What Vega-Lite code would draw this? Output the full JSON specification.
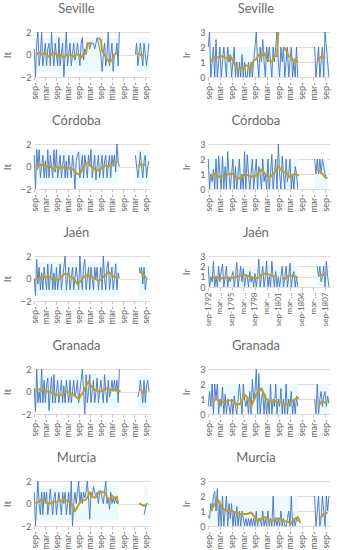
{
"$schema":"https://vega.github.io/schema/vega-lite/v6.json",
"padding":{"top":3,"left":2,"right":4,"bottom":0},
"columns":2,
"align":"each",
"spacing":{"row":14,"column":30},
"config":{
 "view":{"stroke":null},
 "font":"Lato",
 "title":{"fontSize":13,"fontWeight":"normal","color":"#6a6a6a","font":"Lato","offset":12,"frame":"bounds","anchor":"middle"},
 "axis":{"labelFont":"Lato","labelFontSize":9,"labelColor":"#666666","titleFont":"Lato","titleFontSize":10,"titleFontWeight":"normal","titleColor":"#666666","domain":false,"ticks":false,"gridColor":"#dcdcdc"},
 "axisX":{"grid":false,"ticks":true,"tickColor":"#c8c8c8","tickSize":3,"labelAngle":-90,"labelPadding":2,"labelAlign":"right","labelBaseline":"middle"},
 "axisY":{"grid":true,"labelPadding":3,"titlePadding":8}
},
"datasets":{
"bands":[
{"c":"Seville","i":"It","t":"1792-09","t2":"1804-03","v":-1.5,"v2":1.5},
{"c":"Seville","i":"It","t":"1806-05","t2":"1808-03","v":-1.5,"v2":1.5},
{"c":"Seville","i":"Ir","t":"1792-09","t2":"1804-03","v":0,"v2":2},
{"c":"Seville","i":"Ir","t":"1806-05","t2":"1808-03","v":0,"v2":2},
{"c":"Cordoba","i":"It","t":"1792-09","t2":"1804-03","v":-1.5,"v2":1.5},
{"c":"Cordoba","i":"It","t":"1806-05","t2":"1808-03","v":-1.5,"v2":1.5},
{"c":"Cordoba","i":"Ir","t":"1792-09","t2":"1804-03","v":0,"v2":2},
{"c":"Cordoba","i":"Ir","t":"1806-05","t2":"1808-01","v":0,"v2":2},
{"c":"Jaen","i":"It","t":"1792-09","t2":"1804-03","v":-1.5,"v2":1.5},
{"c":"Jaen","i":"It","t":"1806-11","t2":"1808-01","v":-1.5,"v2":1.5},
{"c":"Jaen","i":"Ir","t":"1792-09","t2":"1804-03","v":0,"v2":2},
{"c":"Jaen","i":"Ir","t":"1806-09","t2":"1808-03","v":0,"v2":2},
{"c":"Granada","i":"It","t":"1792-09","t2":"1804-03","v":-1.5,"v2":1.5},
{"c":"Granada","i":"It","t":"1806-09","t2":"1808-03","v":-1.5,"v2":1.5},
{"c":"Granada","i":"Ir","t":"1792-09","t2":"1804-03","v":0,"v2":2},
{"c":"Granada","i":"Ir","t":"1806-05","t2":"1808-03","v":0,"v2":2},
{"c":"Murcia","i":"It","t":"1792-09","t2":"1804-01","v":-1.5,"v2":1.5},
{"c":"Murcia","i":"It","t":"1807-07","t2":"1808-01","v":-1.5,"v2":1.5},
{"c":"Murcia","i":"Ir","t":"1792-09","t2":"1804-03","v":0,"v2":2},
{"c":"Murcia","i":"Ir","t":"1806-05","t2":"1808-03","v":0,"v2":2}
],
"seville_it":[
{"t":"1792-09","v":0.5,"g":1},{"t":"1792-11","v":-2,"g":1},{"t":"1793-01","v":1,"g":1},{"t":"1793-03","v":2,"g":1},{"t":"1793-05","v":-1,"g":1},{"t":"1793-07","v":0,"g":1},
{"t":"1793-09","v":2,"g":1},{"t":"1793-11","v":-1,"g":1},{"t":"1794-01","v":0,"g":1},{"t":"1794-03","v":1,"g":1},{"t":"1794-05","v":-1,"g":1},{"t":"1794-07","v":0.5,"g":1},
{"t":"1794-09","v":1,"g":1},{"t":"1794-11","v":-1,"g":1},{"t":"1795-01","v":2,"g":1},{"t":"1795-03","v":0,"g":1},{"t":"1795-05","v":-1,"g":1},{"t":"1795-07","v":1,"g":1},
{"t":"1795-09","v":0,"g":1},{"t":"1795-11","v":-1,"g":1},{"t":"1796-01","v":1.5,"g":1},{"t":"1796-03","v":-1,"g":1},{"t":"1796-05","v":0,"g":1},{"t":"1796-07","v":1,"g":1},
{"t":"1796-09","v":-2,"g":1},{"t":"1796-11","v":0,"g":1},{"t":"1797-01","v":2,"g":1},{"t":"1797-03","v":-1,"g":1},{"t":"1797-05","v":0,"g":1},{"t":"1797-07","v":1,"g":1},
{"t":"1797-09","v":-1,"g":1},{"t":"1797-11","v":0,"g":1},{"t":"1798-01","v":1,"g":1},{"t":"1798-03","v":-0.5,"g":1},{"t":"1798-05","v":0,"g":1},{"t":"1798-07","v":1,"g":1},
{"t":"1798-09","v":0,"g":1},{"t":"1798-11","v":-1,"g":1},{"t":"1799-01","v":1,"g":1},{"t":"1799-03","v":1.5,"g":1},{"t":"1799-05","v":-0.5,"g":1},{"t":"1799-07","v":0.5,"g":1},
{"t":"1799-09","v":0,"g":1},{"t":"1799-11","v":1,"g":1},{"t":"1800-01","v":1,"g":1},{"t":"1800-03","v":0.5,"g":1},{"t":"1800-05","v":1,"g":1},{"t":"1800-07","v":1,"g":1},
{"t":"1800-09","v":1,"g":1},{"t":"1800-11","v":0.5,"g":1},{"t":"1801-01","v":1,"g":1},{"t":"1801-03","v":1.5,"g":1},{"t":"1801-05","v":1,"g":1},{"t":"1801-07","v":0.5,"g":1},
{"t":"1801-09","v":0,"g":1},{"t":"1801-11","v":-1.5,"g":1},{"t":"1802-01","v":0,"g":1},{"t":"1802-03","v":1,"g":1},{"t":"1802-05","v":-1,"g":1},{"t":"1802-07","v":0,"g":1},
{"t":"1802-09","v":2,"g":1},{"t":"1802-11","v":-1,"g":1},{"t":"1803-01","v":0,"g":1},{"t":"1803-03","v":1,"g":1},{"t":"1803-05","v":-1.5,"g":1},{"t":"1803-07","v":0,"g":1},
{"t":"1803-09","v":0,"g":1},{"t":"1803-11","v":1,"g":1},{"t":"1804-01","v":-1,"g":1},{"t":"1804-03","v":2,"g":1},
{"t":"1806-05","v":0,"g":2},{"t":"1806-07","v":1,"g":2},{"t":"1806-09","v":-1,"g":2},{"t":"1806-11","v":0,"g":2},{"t":"1807-01","v":1,"g":2},{"t":"1807-03","v":0,"g":2},{"t":"1807-05","v":-1,"g":2},{"t":"1807-07","v":1,"g":2},{"t":"1807-09","v":0,"g":2},{"t":"1807-11","v":-1,"g":2},{"t":"1808-01","v":0,"g":2},{"t":"1808-03","v":1,"g":2}
],
"seville_it_ma":[
{"t":"1793-01","v":0,"g":1},{"t":"1793-05","v":0.2,"g":1},{"t":"1793-09","v":0,"g":1},{"t":"1794-01","v":0.1,"g":1},{"t":"1794-05","v":0,"g":1},{"t":"1794-09","v":-0.2,"g":1},{"t":"1795-01","v":0,"g":1},{"t":"1795-05","v":0.2,"g":1},{"t":"1795-09","v":0,"g":1},{"t":"1796-01","v":-0.2,"g":1},{"t":"1796-05","v":0,"g":1},{"t":"1796-09","v":-0.3,"g":1},{"t":"1797-01","v":0,"g":1},{"t":"1797-05","v":-0.1,"g":1},{"t":"1797-09","v":0,"g":1},{"t":"1798-01","v":-0.2,"g":1},{"t":"1798-05","v":0,"g":1},{"t":"1798-09","v":0,"g":1},{"t":"1799-01","v":-0.3,"g":1},{"t":"1799-05","v":0.1,"g":1},{"t":"1799-09","v":0.1,"g":1},{"t":"1799-11","v":1,"g":1},{"t":"1800-03","v":1,"g":1},{"t":"1800-07","v":1,"g":1},
{"t":"1801-05","v":1.5,"g":2},{"t":"1801-09","v":1.3,"g":2},{"t":"1801-11","v":0.3,"g":2},{"t":"1802-03","v":0,"g":2},{"t":"1802-07","v":-0.4,"g":2},{"t":"1802-11","v":-0.7,"g":2},{"t":"1803-03","v":-0.5,"g":2},{"t":"1803-07","v":0,"g":2},{"t":"1803-11","v":0.2,"g":2},
{"t":"1806-07","v":0,"g":3},{"t":"1806-11","v":0.1,"g":3},{"t":"1807-03","v":-0.1,"g":3},{"t":"1807-07","v":0,"g":3}
],
"seville_ir":[
{"t":"1792-09","v":2,"g":1},{"t":"1792-11","v":3,"g":1},{"t":"1793-01","v":0,"g":1},{"t":"1793-03","v":1,"g":1},{"t":"1793-05","v":2,"g":1},{"t":"1793-07","v":0,"g":1},
{"t":"1793-09","v":2.5,"g":1},{"t":"1793-11","v":0,"g":1},{"t":"1794-01","v":1,"g":1},{"t":"1794-03","v":2,"g":1},{"t":"1794-05","v":0,"g":1},{"t":"1794-07","v":1,"g":1},
{"t":"1794-09","v":2,"g":1},{"t":"1794-11","v":1,"g":1},{"t":"1795-01","v":0,"g":1},{"t":"1795-03","v":2,"g":1},{"t":"1795-05","v":1,"g":1},{"t":"1795-07","v":1.5,"g":1},
{"t":"1795-09","v":0,"g":1},{"t":"1795-11","v":1,"g":1},{"t":"1796-01","v":2,"g":1},{"t":"1796-03","v":0,"g":1},{"t":"1796-05","v":1,"g":1},{"t":"1796-07","v":0,"g":1},
{"t":"1796-09","v":1,"g":1},{"t":"1796-11","v":0,"g":1},{"t":"1797-01","v":1.5,"g":1},{"t":"1797-03","v":0,"g":1},{"t":"1797-05","v":1,"g":1},{"t":"1797-07","v":0,"g":1},
{"t":"1797-09","v":0,"g":1},{"t":"1797-11","v":1,"g":1},{"t":"1798-01","v":0,"g":1},{"t":"1798-03","v":1,"g":1},{"t":"1798-05","v":0,"g":1},{"t":"1798-07","v":1,"g":1},
{"t":"1798-09","v":2,"g":1},{"t":"1798-11","v":3,"g":1},{"t":"1799-01","v":1,"g":1},{"t":"1799-03","v":0,"g":1},{"t":"1799-05","v":2,"g":1},{"t":"1799-07","v":1,"g":1},
{"t":"1799-09","v":2.5,"g":1},{"t":"1799-11","v":1,"g":1},{"t":"1800-01","v":0,"g":1},{"t":"1800-03","v":2,"g":1},{"t":"1800-05","v":1,"g":1},{"t":"1800-07","v":2,"g":1},
{"t":"1800-09","v":1,"g":1},{"t":"1800-11","v":0,"g":1},{"t":"1801-01","v":2,"g":1},{"t":"1801-03","v":1,"g":1},{"t":"1801-05","v":2,"g":1},{"t":"1801-07","v":3,"g":1},
{"t":"1801-09","v":1,"g":1},{"t":"1801-11","v":0,"g":1},{"t":"1802-01","v":2,"g":1},{"t":"1802-03","v":1,"g":1},{"t":"1802-05","v":2,"g":1},{"t":"1802-07","v":0,"g":1},
{"t":"1802-09","v":1,"g":1},{"t":"1802-11","v":2,"g":1},{"t":"1803-01","v":0,"g":1},{"t":"1803-03","v":1,"g":1},{"t":"1803-05","v":2,"g":1},{"t":"1803-07","v":0,"g":1},
{"t":"1803-09","v":1,"g":1},{"t":"1803-11","v":0,"g":1},{"t":"1804-01","v":2,"g":1},{"t":"1804-03","v":0,"g":1},
{"t":"1806-05","v":2,"g":2},{"t":"1806-07","v":0,"g":2},{"t":"1806-09","v":1,"g":2},{"t":"1806-11","v":2,"g":2},{"t":"1807-01","v":0,"g":2},{"t":"1807-03","v":1,"g":2},{"t":"1807-05","v":2,"g":2},{"t":"1807-07","v":0,"g":2},{"t":"1807-09","v":3,"g":2},{"t":"1807-11","v":2,"g":2},{"t":"1808-01","v":1,"g":2},{"t":"1808-03","v":0,"g":2}
],
"seville_ir_ma":[
{"t":"1793-01","v":1.0,"g":1},{"t":"1793-05","v":1.3,"g":1},{"t":"1793-11","v":1.3,"g":1},{"t":"1794-05","v":1.4,"g":1},{"t":"1794-11","v":1.3,"g":1},{"t":"1795-03","v":1.2,"g":1},{"t":"1795-07","v":1.4,"g":1},{"t":"1795-11","v":1.1,"g":1},{"t":"1796-03","v":0.7,"g":1},{"t":"1796-07","v":0.5,"g":1},{"t":"1796-11","v":0.6,"g":1},{"t":"1797-03","v":0.5,"g":1},{"t":"1797-07","v":0.8,"g":1},{"t":"1797-11","v":0.7,"g":1},{"t":"1798-03","v":0.5,"g":1},{"t":"1798-07","v":1.1,"g":1},{"t":"1798-11","v":1.2,"g":1},{"t":"1799-03","v":1.5,"g":1},{"t":"1799-07","v":1.4,"g":1},{"t":"1799-11","v":1.6,"g":1},{"t":"1800-03","v":1.2,"g":1},{"t":"1800-07","v":1.1,"g":1},{"t":"1800-11","v":1.0,"g":1},{"t":"1801-03","v":1.4,"g":1},{"t":"1801-07","v":1.4,"g":1},{"t":"1801-09","v":3,"g":1},
{"t":"1802-05","v":2.0,"g":2},{"t":"1802-09","v":1.8,"g":2},{"t":"1803-01","v":1.4,"g":2},{"t":"1803-05","v":1.3,"g":2},{"t":"1803-09","v":1.0,"g":2},{"t":"1803-11","v":1.2,"g":2},{"t":"1804-03","v":1.0,"g":2},
{"t":"1806-09","v":1.0,"g":3},{"t":"1807-01","v":1.3,"g":3},{"t":"1807-05","v":1.4,"g":3},{"t":"1807-09","v":1.2,"g":3}
],
"cordoba_it":[
{"t":"1792-09","v":1,"g":1},{"t":"1792-11","v":-2,"g":1},{"t":"1793-01","v":1.5,"g":1},{"t":"1793-03","v":0,"g":1},{"t":"1793-05","v":1.5,"g":1},{"t":"1793-07","v":-1,"g":1},
{"t":"1793-09","v":0,"g":1},{"t":"1793-11","v":1,"g":1},{"t":"1794-01","v":-1,"g":1},{"t":"1794-03","v":0.5,"g":1},{"t":"1794-05","v":-1,"g":1},{"t":"1794-07","v":1.5,"g":1},
{"t":"1794-09","v":-1,"g":1},{"t":"1794-11","v":1,"g":1},{"t":"1795-01","v":0,"g":1},{"t":"1795-03","v":-1,"g":1},{"t":"1795-05","v":1.5,"g":1},{"t":"1795-07","v":-0.5,"g":1},
{"t":"1795-09","v":1.5,"g":1},{"t":"1795-11","v":-1,"g":1},{"t":"1796-01","v":0,"g":1},{"t":"1796-03","v":1,"g":1},{"t":"1796-05","v":-1,"g":1},{"t":"1796-07","v":0,"g":1},
{"t":"1796-09","v":1,"g":1},{"t":"1796-11","v":-1,"g":1},{"t":"1797-01","v":0.5,"g":1},{"t":"1797-03","v":-1,"g":1},{"t":"1797-05","v":1,"g":1},{"t":"1797-07","v":0,"g":1},
{"t":"1797-09","v":-1,"g":1},{"t":"1797-11","v":1,"g":1},{"t":"1798-01","v":0,"g":1},{"t":"1798-03","v":-2,"g":1},{"t":"1798-05","v":0.5,"g":1},{"t":"1798-07","v":1,"g":1},
{"t":"1798-09","v":1.3,"g":1},{"t":"1798-11","v":-1,"g":1},{"t":"1799-01","v":0,"g":1},{"t":"1799-03","v":1,"g":1},{"t":"1799-05","v":-1,"g":1},{"t":"1799-07","v":1,"g":1},
{"t":"1799-09","v":0,"g":1},{"t":"1799-11","v":-1,"g":1},{"t":"1800-01","v":1,"g":1},{"t":"1800-03","v":0,"g":1},{"t":"1800-05","v":1.5,"g":1},{"t":"1800-07","v":-1,"g":1},
{"t":"1800-09","v":0,"g":1},{"t":"1800-11","v":1,"g":1},{"t":"1801-01","v":-1.2,"g":1},{"t":"1801-03","v":0,"g":1},{"t":"1801-05","v":1,"g":1},{"t":"1801-07","v":-1,"g":1},
{"t":"1801-09","v":0,"g":1},{"t":"1801-11","v":1,"g":1},{"t":"1802-01","v":-1,"g":1},{"t":"1802-03","v":0.5,"g":1},{"t":"1802-05","v":1,"g":1},{"t":"1802-07","v":-1,"g":1},
{"t":"1802-09","v":0,"g":1},{"t":"1802-11","v":1,"g":1},{"t":"1803-01","v":-1,"g":1},{"t":"1803-03","v":1,"g":1},{"t":"1803-05","v":0,"g":1},{"t":"1803-07","v":1,"g":1},
{"t":"1803-09","v":-0.5,"g":1},{"t":"1803-11","v":2,"g":1},{"t":"1804-01","v":0.5,"g":1},{"t":"1804-03","v":0,"g":1},
{"t":"1806-05","v":1,"g":2},{"t":"1806-07","v":0,"g":2},{"t":"1806-09","v":-1,"g":2},{"t":"1806-11","v":0,"g":2},{"t":"1807-01","v":1.3,"g":2},{"t":"1807-03","v":0,"g":2},{"t":"1807-05","v":-1,"g":2},{"t":"1807-07","v":0.5,"g":2},{"t":"1807-09","v":1,"g":2},{"t":"1807-11","v":-1,"g":2},{"t":"1808-01","v":0,"g":2},{"t":"1808-03","v":0.5,"g":2}
],
"cordoba_it_ma":[
{"t":"1793-01","v":-0.3,"g":1},{"t":"1793-05","v":0.2,"g":1},{"t":"1793-09","v":0.1,"g":1},{"t":"1794-01","v":0.2,"g":1},{"t":"1794-05","v":0,"g":1},{"t":"1794-09","v":0.1,"g":1},{"t":"1795-01","v":-0.1,"g":1},{"t":"1795-05","v":-0.3,"g":1},{"t":"1795-09","v":0,"g":1},{"t":"1796-01","v":-0.2,"g":1},{"t":"1796-05","v":0,"g":1},{"t":"1796-09","v":-0.1,"g":1},{"t":"1797-01","v":-0.2,"g":1},{"t":"1797-05","v":-0.1,"g":1},{"t":"1797-09","v":-0.2,"g":1},{"t":"1798-01","v":-0.3,"g":1},{"t":"1798-05","v":-0.6,"g":1},{"t":"1798-09","v":-0.7,"g":1},{"t":"1799-01","v":-0.5,"g":1},{"t":"1799-05","v":0,"g":1},{"t":"1799-09","v":0.3,"g":1},{"t":"1800-01","v":0.3,"g":1},{"t":"1800-05","v":0,"g":1},{"t":"1800-09","v":-0.1,"g":1},{"t":"1801-01","v":-0.4,"g":1},{"t":"1801-05","v":-0.3,"g":1},{"t":"1801-09","v":-0.2,"g":1},{"t":"1802-01","v":0,"g":1},{"t":"1802-05","v":0.1,"g":1},{"t":"1802-09","v":0,"g":1},{"t":"1803-01","v":0.1,"g":1},{"t":"1803-05","v":0.2,"g":1},{"t":"1803-09","v":0.3,"g":1},{"t":"1804-01","v":0.5,"g":1},
{"t":"1806-09","v":0,"g":2},{"t":"1807-01","v":0.2,"g":2},{"t":"1807-05","v":0.1,"g":2},{"t":"1807-09","v":0.2,"g":2}
],
"cordoba_ir":[
{"t":"1792-09","v":2,"g":1},{"t":"1792-11","v":0,"g":1},{"t":"1793-01","v":1,"g":1},{"t":"1793-03","v":0.5,"g":1},{"t":"1793-05","v":1.3,"g":1},{"t":"1793-07","v":0,"g":1},
{"t":"1793-09","v":2,"g":1},{"t":"1793-11","v":0,"g":1},{"t":"1794-01","v":2.2,"g":1},{"t":"1794-03","v":1,"g":1},{"t":"1794-05","v":0,"g":1},{"t":"1794-07","v":2.2,"g":1},
{"t":"1794-09","v":0,"g":1},{"t":"1794-11","v":1.5,"g":1},{"t":"1795-01","v":0,"g":1},{"t":"1795-03","v":2.5,"g":1},{"t":"1795-05","v":1,"g":1},{"t":"1795-07","v":0,"g":1},
{"t":"1795-09","v":1,"g":1},{"t":"1795-11","v":2,"g":1},{"t":"1796-01","v":0,"g":1},{"t":"1796-03","v":1.5,"g":1},{"t":"1796-05","v":0,"g":1},{"t":"1796-07","v":1,"g":1},
{"t":"1796-09","v":2,"g":1},{"t":"1796-11","v":0,"g":1},{"t":"1797-01","v":1,"g":1},{"t":"1797-03","v":0,"g":1},{"t":"1797-05","v":2.5,"g":1},{"t":"1797-07","v":0,"g":1},
{"t":"1797-09","v":2.3,"g":1},{"t":"1797-11","v":1,"g":1},{"t":"1798-01","v":0,"g":1},{"t":"1798-03","v":1,"g":1},{"t":"1798-05","v":2,"g":1},{"t":"1798-07","v":0,"g":1},
{"t":"1798-09","v":1,"g":1},{"t":"1798-11","v":2,"g":1},{"t":"1799-01","v":0,"g":1},{"t":"1799-03","v":1.5,"g":1},{"t":"1799-05","v":1,"g":1},{"t":"1799-07","v":0,"g":1},
{"t":"1799-09","v":2,"g":1},{"t":"1799-11","v":0.5,"g":1},{"t":"1800-01","v":1,"g":1},{"t":"1800-03","v":0,"g":1},{"t":"1800-05","v":2,"g":1},{"t":"1800-07","v":0,"g":1},
{"t":"1800-09","v":1,"g":1},{"t":"1800-11","v":2.3,"g":1},{"t":"1801-01","v":0,"g":1},{"t":"1801-03","v":1,"g":1},{"t":"1801-05","v":2,"g":1},{"t":"1801-07","v":0,"g":1},
{"t":"1801-09","v":3,"g":1},{"t":"1801-11","v":1,"g":1},{"t":"1802-01","v":0,"g":1},{"t":"1802-03","v":2.2,"g":1},{"t":"1802-05","v":1,"g":1},{"t":"1802-07","v":0,"g":1},
{"t":"1802-09","v":2,"g":1},{"t":"1802-11","v":0.5,"g":1},{"t":"1803-01","v":1,"g":1},{"t":"1803-03","v":2,"g":1},{"t":"1803-05","v":0,"g":1},{"t":"1803-07","v":1,"g":1},
{"t":"1803-09","v":0,"g":1},{"t":"1803-11","v":1.5,"g":1},{"t":"1804-01","v":1,"g":1},{"t":"1804-03","v":0,"g":1},
{"t":"1806-05","v":2,"g":2},{"t":"1806-07","v":1,"g":2},{"t":"1806-09","v":2,"g":2},{"t":"1806-11","v":1,"g":2},{"t":"1807-01","v":2,"g":2},{"t":"1807-03","v":1,"g":2},{"t":"1807-05","v":2,"g":2},{"t":"1807-07","v":1.5,"g":2},{"t":"1807-09","v":1,"g":2},{"t":"1807-11","v":0.7,"g":2},{"t":"1808-01","v":0.8,"g":2}
],
"cordoba_ir_ma":[
{"t":"1792-11","v":0.7,"g":1},{"t":"1793-07","v":1.0,"g":1},{"t":"1794-03","v":0.8,"g":1},{"t":"1794-11","v":0.9,"g":1},{"t":"1795-05","v":1.0,"g":1},{"t":"1795-11","v":1.0,"g":1},{"t":"1796-07","v":0.7,"g":1},{"t":"1797-01","v":0.8,"g":1},{"t":"1797-07","v":1.0,"g":1},{"t":"1798-03","v":0.8,"g":1},{"t":"1798-11","v":0.9,"g":1},{"t":"1799-07","v":1.3,"g":1},{"t":"1800-03","v":0.9,"g":1},{"t":"1800-09","v":0.8,"g":1},{"t":"1801-03","v":1.1,"g":1},{"t":"1801-09","v":1.5,"g":1},{"t":"1802-03","v":1.2,"g":1},{"t":"1802-11","v":1.0,"g":1},{"t":"1803-03","v":0.8,"g":1},{"t":"1803-09","v":1.0,"g":1},{"t":"1804-05","v":0.9,"g":1},
{"t":"1806-09","v":1.3,"g":2},{"t":"1807-03","v":1.1,"g":2},{"t":"1807-11","v":0.7,"g":2}
],
"jaen_it":[
{"t":"1792-09","v":0,"g":1},{"t":"1792-11","v":-1.5,"g":1},{"t":"1793-01","v":1.7,"g":1},{"t":"1793-03","v":-0.5,"g":1},{"t":"1793-05","v":1,"g":1},{"t":"1793-07","v":-1,"g":1},
{"t":"1793-09","v":0.5,"g":1},{"t":"1793-11","v":-1,"g":1},{"t":"1794-01","v":1,"g":1},{"t":"1794-03","v":0,"g":1},{"t":"1794-05","v":-1,"g":1},{"t":"1794-07","v":1.3,"g":1},
{"t":"1794-09","v":-1,"g":1},{"t":"1794-11","v":0,"g":1},{"t":"1795-01","v":1.3,"g":1},{"t":"1795-03","v":-1,"g":1},{"t":"1795-05","v":0.5,"g":1},{"t":"1795-07","v":-1,"g":1},
{"t":"1795-09","v":1,"g":1},{"t":"1795-11","v":-1,"g":1},{"t":"1796-01","v":0,"g":1},{"t":"1796-03","v":1.3,"g":1},{"t":"1796-05","v":-1,"g":1},{"t":"1796-07","v":0,"g":1},
{"t":"1796-09","v":1,"g":1},{"t":"1796-11","v":2,"g":1},{"t":"1797-01","v":-1,"g":1},{"t":"1797-03","v":0,"g":1},{"t":"1797-05","v":1,"g":1},{"t":"1797-07","v":-1,"g":1},
{"t":"1797-09","v":0,"g":1},{"t":"1797-11","v":1,"g":1},{"t":"1798-01","v":-1,"g":1},{"t":"1798-03","v":0,"g":1},{"t":"1798-05","v":1,"g":1},{"t":"1798-07","v":0,"g":1},
{"t":"1798-09","v":-1,"g":1},{"t":"1798-11","v":2,"g":1},{"t":"1799-01","v":0,"g":1},{"t":"1799-03","v":-1,"g":1},{"t":"1799-05","v":1,"g":1},{"t":"1799-07","v":1.7,"g":1},
{"t":"1799-09","v":-1,"g":1},{"t":"1799-11","v":0,"g":1},{"t":"1800-01","v":1,"g":1},{"t":"1800-03","v":-1,"g":1},{"t":"1800-05","v":1,"g":1},{"t":"1800-07","v":0,"g":1},
{"t":"1800-09","v":-1,"g":1},{"t":"1800-11","v":1,"g":1},{"t":"1801-01","v":0,"g":1},{"t":"1801-03","v":1,"g":1},{"t":"1801-05","v":-1,"g":1},{"t":"1801-07","v":0,"g":1},
{"t":"1801-09","v":1,"g":1},{"t":"1801-11","v":-1,"g":1},{"t":"1802-01","v":2,"g":1},{"t":"1802-03","v":0,"g":1},{"t":"1802-05","v":-1,"g":1},{"t":"1802-07","v":1,"g":1},
{"t":"1802-09","v":1.5,"g":1},{"t":"1802-11","v":-1,"g":1},{"t":"1803-01","v":0,"g":1},{"t":"1803-03","v":1,"g":1},{"t":"1803-05","v":-1,"g":1},{"t":"1803-07","v":0,"g":1},
{"t":"1803-09","v":1.3,"g":1},{"t":"1803-11","v":-1,"g":1},{"t":"1804-01","v":0.5,"g":1},{"t":"1804-03","v":0,"g":1},
{"t":"1806-11","v":1,"g":2},{"t":"1807-01","v":0.5,"g":2},{"t":"1807-03","v":1,"g":2},{"t":"1807-05","v":-0.5,"g":2},{"t":"1807-07","v":1,"g":2},{"t":"1807-09","v":-1,"g":2},{"t":"1807-11","v":0,"g":2},{"t":"1808-01","v":0,"g":2}
],
"jaen_it_ma":[
{"t":"1792-11","v":-0.1,"g":1},{"t":"1793-05","v":0,"g":1},{"t":"1793-09","v":0.2,"g":1},{"t":"1794-01","v":0.2,"g":1},{"t":"1794-05","v":0.1,"g":1},{"t":"1794-09","v":0.2,"g":1},{"t":"1795-01","v":0,"g":1},{"t":"1795-05","v":-0.1,"g":1},{"t":"1795-09","v":-0.1,"g":1},{"t":"1796-01","v":-0.1,"g":1},{"t":"1796-05","v":0.1,"g":1},{"t":"1796-09","v":0.4,"g":1},{"t":"1797-01","v":0.4,"g":1},{"t":"1797-05","v":0.3,"g":1},{"t":"1797-09","v":0.1,"g":1},{"t":"1798-01","v":0,"g":1},{"t":"1798-05","v":-0.3,"g":1},{"t":"1798-07","v":-0.5,"g":1},{"t":"1798-11","v":-0.3,"g":1},{"t":"1799-03","v":0,"g":1},{"t":"1799-07","v":0.2,"g":1},{"t":"1799-11","v":0.3,"g":1},{"t":"1800-03","v":0.2,"g":1},{"t":"1800-07","v":0.1,"g":1},{"t":"1800-11","v":0,"g":1},{"t":"1801-05","v":-0.2,"g":1},{"t":"1801-09","v":-0.1,"g":1},{"t":"1802-01","v":0.1,"g":1},{"t":"1802-05","v":0.3,"g":1},{"t":"1802-09","v":0.6,"g":1},{"t":"1803-01","v":0.4,"g":1},{"t":"1803-05","v":0.2,"g":1},{"t":"1803-09","v":0.1,"g":1},{"t":"1804-01","v":0,"g":1},
{"t":"1806-11","v":0.6,"g":2},{"t":"1807-03","v":0.5,"g":2},{"t":"1807-07","v":0.2,"g":2},{"t":"1807-11","v":0.1,"g":2}
],
"jaen_ir":[
{"t":"1792-09","v":2,"g":1},{"t":"1792-11","v":0,"g":1},{"t":"1793-01","v":1,"g":1},{"t":"1793-03","v":0.5,"g":1},{"t":"1793-05","v":2.5,"g":1},{"t":"1793-07","v":0,"g":1},
{"t":"1793-09","v":1,"g":1},{"t":"1793-11","v":0,"g":1},{"t":"1794-01","v":2,"g":1},{"t":"1794-03","v":0.5,"g":1},{"t":"1794-05","v":1.5,"g":1},{"t":"1794-07","v":2.2,"g":1},
{"t":"1794-09","v":0,"g":1},{"t":"1794-11","v":1,"g":1},{"t":"1795-01","v":2,"g":1},{"t":"1795-03","v":0,"g":1},{"t":"1795-05","v":1,"g":1},{"t":"1795-07","v":0.5,"g":1},
{"t":"1795-09","v":1,"g":1},{"t":"1795-11","v":1.5,"g":1},{"t":"1796-01","v":0,"g":1},{"t":"1796-03","v":1,"g":1},{"t":"1796-05","v":2.4,"g":1},{"t":"1796-07","v":0,"g":1},
{"t":"1796-09","v":1,"g":1},{"t":"1796-11","v":2,"g":1},{"t":"1797-01","v":0.5,"g":1},{"t":"1797-03","v":1.8,"g":1},{"t":"1797-05","v":0,"g":1},{"t":"1797-07","v":1,"g":1},
{"t":"1797-09","v":1,"g":1},{"t":"1797-11","v":0,"g":1},{"t":"1798-01","v":1.5,"g":1},{"t":"1798-03","v":0.5,"g":1},{"t":"1798-05","v":1,"g":1},{"t":"1798-07","v":0,"g":1},
{"t":"1798-09","v":1.3,"g":1},{"t":"1798-11","v":0,"g":1},{"t":"1799-01","v":1,"g":1},{"t":"1799-03","v":2.7,"g":1},{"t":"1799-05","v":0,"g":1},{"t":"1799-07","v":1,"g":1},
{"t":"1799-09","v":2,"g":1},{"t":"1799-11","v":0,"g":1},{"t":"1800-01","v":1,"g":1},{"t":"1800-03","v":2.5,"g":1},{"t":"1800-05","v":0,"g":1},{"t":"1800-07","v":1,"g":1},
{"t":"1800-09","v":0,"g":1},{"t":"1800-11","v":2.5,"g":1},{"t":"1801-01","v":1,"g":1},{"t":"1801-03","v":0,"g":1},{"t":"1801-05","v":1.5,"g":1},{"t":"1801-07","v":0,"g":1},
{"t":"1801-09","v":1,"g":1},{"t":"1801-11","v":0,"g":1},{"t":"1802-01","v":1,"g":1},{"t":"1802-03","v":2,"g":1},{"t":"1802-05","v":0,"g":1},{"t":"1802-07","v":1,"g":1},
{"t":"1802-09","v":2,"g":1},{"t":"1802-11","v":0,"g":1},{"t":"1803-01","v":1,"g":1},{"t":"1803-03","v":2.3,"g":1},{"t":"1803-05","v":0,"g":1},{"t":"1803-07","v":1,"g":1},
{"t":"1803-09","v":1.5,"g":1},{"t":"1803-11","v":0,"g":1},{"t":"1804-01","v":1,"g":1},{"t":"1804-03","v":0,"g":1},
{"t":"1806-09","v":2,"g":2},{"t":"1806-11","v":1,"g":2},{"t":"1807-01","v":2,"g":2},{"t":"1807-03","v":0.5,"g":2},{"t":"1807-05","v":1,"g":2},{"t":"1807-07","v":2,"g":2},{"t":"1807-09","v":0,"g":2},{"t":"1807-11","v":2.5,"g":2},{"t":"1808-01","v":1,"g":2},{"t":"1808-03","v":0,"g":2}
],
"jaen_ir_ma":[
{"t":"1793-03","v":0.8,"g":1},{"t":"1793-09","v":1.0,"g":1},{"t":"1794-03","v":0.8,"g":1},{"t":"1794-09","v":0.9,"g":1},{"t":"1795-05","v":0.9,"g":1},{"t":"1795-11","v":0.9,"g":1},{"t":"1796-05","v":1.0,"g":1},{"t":"1796-11","v":1.1,"g":1},{"t":"1797-05","v":1.2,"g":1},{"t":"1798-01","v":1.0,"g":1},{"t":"1798-07","v":0.9,"g":1},{"t":"1799-03","v":0.9,"g":1},{"t":"1799-07","v":1.2,"g":1},{"t":"1800-01","v":1.3,"g":1},{"t":"1800-07","v":1.2,"g":1},{"t":"1801-01","v":1.0,"g":1},{"t":"1801-07","v":1.1,"g":1},
{"t":"1802-03","v":0.8,"g":2},{"t":"1802-07","v":0.8,"g":2},{"t":"1803-01","v":1.1,"g":2},{"t":"1803-09","v":1.1,"g":2},{"t":"1804-03","v":0.9,"g":2},
{"t":"1806-11","v":1.1,"g":3},{"t":"1807-05","v":1.2,"g":3},{"t":"1807-11","v":1.1,"g":3}
],
"granada_it":[
{"t":"1792-09","v":0.3,"g":1},{"t":"1792-11","v":-1.8,"g":1},{"t":"1793-01","v":2,"g":1},{"t":"1793-03","v":-1,"g":1},{"t":"1793-05","v":0,"g":1},{"t":"1793-07","v":-1,"g":1},
{"t":"1793-09","v":2,"g":1},{"t":"1793-11","v":-1,"g":1},{"t":"1794-01","v":1,"g":1},{"t":"1794-03","v":-1,"g":1},{"t":"1794-05","v":0.5,"g":1},{"t":"1794-07","v":1.2,"g":1},
{"t":"1794-09","v":-1.7,"g":1},{"t":"1794-11","v":0,"g":1},{"t":"1795-01","v":1.3,"g":1},{"t":"1795-03","v":-1,"g":1},{"t":"1795-05","v":1.5,"g":1},{"t":"1795-07","v":-1,"g":1},
{"t":"1795-09","v":0,"g":1},{"t":"1795-11","v":1,"g":1},{"t":"1796-01","v":-1,"g":1},{"t":"1796-03","v":0,"g":1},{"t":"1796-05","v":1,"g":1},{"t":"1796-07","v":-1,"g":1},
{"t":"1796-09","v":0.5,"g":1},{"t":"1796-11","v":-1,"g":1},{"t":"1797-01","v":1,"g":1},{"t":"1797-03","v":0,"g":1},{"t":"1797-05","v":-1,"g":1},{"t":"1797-07","v":1,"g":1},
{"t":"1797-09","v":-1,"g":1},{"t":"1797-11","v":0,"g":1},{"t":"1798-01","v":1,"g":1},{"t":"1798-03","v":-0.5,"g":1},{"t":"1798-05","v":0,"g":1},{"t":"1798-07","v":1,"g":1},
{"t":"1798-09","v":-1,"g":1},{"t":"1798-11","v":0,"g":1},{"t":"1799-01","v":1,"g":1},{"t":"1799-03","v":2,"g":1},{"t":"1799-05","v":0,"g":1},{"t":"1799-07","v":-2,"g":1},
{"t":"1799-09","v":1.5,"g":1},{"t":"1799-11","v":-1,"g":1},{"t":"1800-01","v":0,"g":1},{"t":"1800-03","v":1.5,"g":1},{"t":"1800-05","v":-1,"g":1},{"t":"1800-07","v":0,"g":1},
{"t":"1800-09","v":1,"g":1},{"t":"1800-11","v":-1,"g":1},{"t":"1801-01","v":0,"g":1},{"t":"1801-03","v":1.2,"g":1},{"t":"1801-05","v":-1,"g":1},{"t":"1801-07","v":0,"g":1},
{"t":"1801-09","v":1,"g":1},{"t":"1801-11","v":0,"g":1},{"t":"1802-01","v":-1,"g":1},{"t":"1802-03","v":1.5,"g":1},{"t":"1802-05","v":0,"g":1},{"t":"1802-07","v":-1,"g":1},
{"t":"1802-09","v":1,"g":1},{"t":"1802-11","v":-0.5,"g":1},{"t":"1803-01","v":0,"g":1},{"t":"1803-03","v":1,"g":1},{"t":"1803-05","v":0,"g":1},{"t":"1803-07","v":1,"g":1},
{"t":"1803-09","v":0,"g":1},{"t":"1803-11","v":1,"g":1},{"t":"1804-01","v":-1,"g":1},{"t":"1804-03","v":2,"g":1},
{"t":"1806-09","v":-0.5,"g":2},{"t":"1806-11","v":0,"g":2},{"t":"1807-01","v":1,"g":2},{"t":"1807-03","v":0,"g":2},{"t":"1807-05","v":-1,"g":2},{"t":"1807-07","v":1,"g":2},{"t":"1807-09","v":-1,"g":2},{"t":"1807-11","v":0.5,"g":2},{"t":"1808-01","v":1,"g":2},{"t":"1808-03","v":0,"g":2}
],
"granada_it_ma":[
{"t":"1792-11","v":0,"g":1},{"t":"1793-05","v":0.2,"g":1},{"t":"1793-09","v":0.1,"g":1},{"t":"1794-01","v":0.2,"g":1},{"t":"1794-05","v":0,"g":1},{"t":"1794-09","v":0,"g":1},{"t":"1795-01","v":-0.1,"g":1},{"t":"1795-05","v":-0.2,"g":1},{"t":"1795-09","v":-0.3,"g":1},{"t":"1796-01","v":-0.3,"g":1},{"t":"1796-05","v":-0.3,"g":1},{"t":"1796-09","v":-0.1,"g":1},{"t":"1797-01","v":0,"g":1},{"t":"1797-05","v":-0.1,"g":1},{"t":"1797-09","v":-0.2,"g":1},{"t":"1798-01","v":-0.3,"g":1},{"t":"1798-05","v":-0.5,"g":1},{"t":"1798-09","v":-0.7,"g":1},{"t":"1799-01","v":-0.3,"g":1},{"t":"1799-05","v":0,"g":1},{"t":"1799-09","v":0.5,"g":1},{"t":"1800-01","v":0.9,"g":1},{"t":"1800-05","v":0.5,"g":1},{"t":"1800-09","v":0.2,"g":1},{"t":"1801-01","v":0.1,"g":1},{"t":"1801-05","v":0,"g":1},{"t":"1801-09","v":0,"g":1},{"t":"1802-01","v":0.1,"g":1},{"t":"1802-05","v":0.3,"g":1},{"t":"1802-09","v":0.2,"g":1},{"t":"1803-01","v":0.1,"g":1},{"t":"1803-05","v":0.2,"g":1},{"t":"1803-09","v":0.1,"g":1},{"t":"1804-01","v":0.1,"g":1},{"t":"1804-05","v":0,"g":1},
{"t":"1807-01","v":0.2,"g":2},{"t":"1807-05","v":-0.1,"g":2},{"t":"1807-09","v":0,"g":2},{"t":"1807-11","v":-0.1,"g":2}
],
"granada_ir":[
{"t":"1792-09","v":0.5,"g":1},{"t":"1792-11","v":1.5,"g":1},{"t":"1793-01","v":0.5,"g":1},{"t":"1793-03","v":2,"g":1},{"t":"1793-05","v":0,"g":1},{"t":"1793-07","v":2,"g":1},
{"t":"1793-09","v":1,"g":1},{"t":"1793-11","v":2,"g":1},{"t":"1794-01","v":0,"g":1},{"t":"1794-03","v":1,"g":1},{"t":"1794-05","v":0.5,"g":1},{"t":"1794-07","v":1.8,"g":1},
{"t":"1794-09","v":0,"g":1},{"t":"1794-11","v":1.3,"g":1},{"t":"1795-01","v":0,"g":1},{"t":"1795-03","v":1,"g":1},{"t":"1795-05","v":0.5,"g":1},{"t":"1795-07","v":0,"g":1},
{"t":"1795-09","v":1,"g":1},{"t":"1795-11","v":0,"g":1},{"t":"1796-01","v":1.2,"g":1},{"t":"1796-03","v":0.5,"g":1},{"t":"1796-05","v":0,"g":1},{"t":"1796-07","v":1,"g":1},
{"t":"1796-09","v":2,"g":1},{"t":"1796-11","v":1,"g":1},{"t":"1797-01","v":0,"g":1},{"t":"1797-03","v":2,"g":1},{"t":"1797-05","v":1,"g":1},{"t":"1797-07","v":0.5,"g":1},
{"t":"1797-09","v":1,"g":1},{"t":"1797-11","v":0,"g":1},{"t":"1798-01","v":1.5,"g":1},{"t":"1798-03","v":0,"g":1},{"t":"1798-05","v":2.3,"g":1},{"t":"1798-07","v":1,"g":1},
{"t":"1798-09","v":1.5,"g":1},{"t":"1798-11","v":3,"g":1},{"t":"1799-01","v":0,"g":1},{"t":"1799-03","v":2.7,"g":1},{"t":"1799-05","v":0,"g":1},{"t":"1799-07","v":1,"g":1},
{"t":"1799-09","v":1.5,"g":1},{"t":"1799-11","v":0,"g":1},{"t":"1800-01","v":1.3,"g":1},{"t":"1800-03","v":0,"g":1},{"t":"1800-05","v":1,"g":1},{"t":"1800-07","v":0,"g":1},
{"t":"1800-09","v":2,"g":1},{"t":"1800-11","v":0,"g":1},{"t":"1801-01","v":1,"g":1},{"t":"1801-03","v":0.5,"g":1},{"t":"1801-05","v":2,"g":1},{"t":"1801-07","v":0,"g":1},
{"t":"1801-09","v":1,"g":1},{"t":"1801-11","v":0.5,"g":1},{"t":"1802-01","v":1.7,"g":1},{"t":"1802-03","v":0,"g":1},{"t":"1802-05","v":1,"g":1},{"t":"1802-07","v":0,"g":1},
{"t":"1802-09","v":2,"g":1},{"t":"1802-11","v":0,"g":1},{"t":"1803-01","v":1,"g":1},{"t":"1803-03","v":0.5,"g":1},{"t":"1803-05","v":1.5,"g":1},{"t":"1803-07","v":0,"g":1},
{"t":"1803-09","v":1,"g":1},{"t":"1803-11","v":0,"g":1},{"t":"1804-01","v":1.2,"g":1},{"t":"1804-03","v":0.5,"g":1},
{"t":"1806-05","v":1,"g":2},{"t":"1806-07","v":0,"g":2},{"t":"1806-09","v":2,"g":2},{"t":"1806-11","v":0,"g":2},{"t":"1807-01","v":1,"g":2},{"t":"1807-03","v":1.5,"g":2},{"t":"1807-05","v":0.5,"g":2},{"t":"1807-07","v":1.2,"g":2},{"t":"1807-09","v":1.5,"g":2},{"t":"1807-11","v":0.5,"g":2},{"t":"1808-01","v":1.2,"g":2},{"t":"1808-03","v":0.7,"g":2}
],
"granada_ir_ma":[
{"t":"1793-03","v":0.8,"g":1},{"t":"1793-09","v":1.0,"g":1},{"t":"1794-03","v":0.8,"g":1},{"t":"1794-11","v":0.8,"g":1},{"t":"1795-05","v":0.9,"g":1},{"t":"1795-11","v":0.9,"g":1},{"t":"1796-05","v":0.6,"g":1},{"t":"1796-11","v":0.7,"g":1},{"t":"1797-05","v":1.3,"g":1},{"t":"1797-11","v":1.0,"g":1},{"t":"1798-03","v":0.5,"g":1},{"t":"1798-11","v":1.3,"g":1},{"t":"1799-07","v":1.7,"g":1},{"t":"1800-01","v":1.1,"g":1},{"t":"1800-07","v":0.8,"g":1},{"t":"1801-01","v":0.9,"g":1},{"t":"1801-07","v":0.8,"g":1},{"t":"1802-01","v":0.8,"g":1},{"t":"1802-07","v":0.6,"g":1},{"t":"1803-03","v":0.7,"g":1},{"t":"1803-11","v":1.0,"g":1},{"t":"1804-05","v":1.1,"g":1},
{"t":"1806-11","v":0.5,"g":2},{"t":"1807-03","v":0.8,"g":2},{"t":"1807-07","v":0.8,"g":2},{"t":"1807-11","v":0.7,"g":2}
],
"murcia_it":[
{"t":"1792-09","v":1,"g":1},{"t":"1792-11","v":-2,"g":1},{"t":"1793-01","v":0,"g":1},{"t":"1793-03","v":2,"g":1},{"t":"1793-05","v":0,"g":1},{"t":"1793-07","v":-1,"g":1},
{"t":"1793-09","v":1,"g":1},{"t":"1793-11","v":-1,"g":1},{"t":"1794-01","v":1,"g":1},{"t":"1794-03","v":0,"g":1},{"t":"1794-05","v":1,"g":1},{"t":"1794-07","v":-1,"g":1},
{"t":"1794-09","v":0,"g":1},{"t":"1794-11","v":1.3,"g":1},{"t":"1795-01","v":0,"g":1},{"t":"1795-03","v":-1,"g":1},{"t":"1795-05","v":0.5,"g":1},{"t":"1795-07","v":1,"g":1},
{"t":"1795-09","v":-1,"g":1},{"t":"1795-11","v":0,"g":1},{"t":"1796-01","v":1,"g":1},{"t":"1796-03","v":0,"g":1},{"t":"1796-05","v":-1,"g":1},{"t":"1796-07","v":1,"g":1},
{"t":"1796-09","v":0,"g":1},{"t":"1796-11","v":1,"g":1},{"t":"1797-01","v":-1,"g":1},{"t":"1797-03","v":0,"g":1},{"t":"1797-05","v":1,"g":1},{"t":"1797-07","v":-1,"g":1},
{"t":"1797-09","v":2,"g":1},{"t":"1797-11","v":-2,"g":1},{"t":"1798-01","v":0,"g":1},{"t":"1798-03","v":1,"g":1},{"t":"1798-05","v":0,"g":1},{"t":"1798-07","v":1,"g":1},
{"t":"1798-09","v":2,"g":1},{"t":"1798-11","v":0,"g":1},{"t":"1799-01","v":1,"g":1},{"t":"1799-03","v":0,"g":1},{"t":"1799-05","v":1,"g":1},{"t":"1799-07","v":0.5,"g":1},
{"t":"1799-09","v":1,"g":1},{"t":"1799-11","v":2,"g":1},{"t":"1800-01","v":0.5,"g":1},{"t":"1800-03","v":-1.4,"g":1},{"t":"1800-05","v":1,"g":1},{"t":"1800-07","v":0.5,"g":1},
{"t":"1800-09","v":1.5,"g":1},{"t":"1800-11","v":1,"g":1},{"t":"1801-01","v":0.5,"g":1},{"t":"1801-03","v":1,"g":1},{"t":"1801-05","v":0,"g":1},{"t":"1801-07","v":1,"g":1},
{"t":"1801-09","v":1,"g":1},{"t":"1801-11","v":0.5,"g":1},{"t":"1802-01","v":0,"g":1},{"t":"1802-03","v":1,"g":1},{"t":"1802-05","v":2,"g":1},{"t":"1802-07","v":0,"g":1},
{"t":"1802-09","v":0.5,"g":1},{"t":"1802-11","v":-0.5,"g":1},{"t":"1803-01","v":1,"g":1},{"t":"1803-03","v":0,"g":1},{"t":"1803-05","v":0.5,"g":1},{"t":"1803-07","v":0,"g":1},
{"t":"1803-09","v":0.5,"g":1},{"t":"1803-11","v":0,"g":1},{"t":"1804-01","v":0,"g":1},
{"t":"1807-07","v":-1,"g":2},{"t":"1807-09","v":-0.5,"g":2},{"t":"1807-11","v":0,"g":2},{"t":"1808-01","v":0,"g":2}
],
"murcia_it_ma":[
{"t":"1792-11","v":0,"g":1},{"t":"1793-05","v":0.2,"g":1},{"t":"1793-09","v":0.4,"g":1},{"t":"1794-01","v":0.3,"g":1},{"t":"1794-05","v":0.1,"g":1},{"t":"1794-09","v":0,"g":1},{"t":"1795-01","v":0,"g":1},{"t":"1795-05","v":0.2,"g":1},{"t":"1795-09","v":0.1,"g":1},{"t":"1796-01","v":0.3,"g":1},{"t":"1796-05","v":0.2,"g":1},{"t":"1796-09","v":0.4,"g":1},{"t":"1797-01","v":0.3,"g":1},{"t":"1797-05","v":0.2,"g":1},{"t":"1797-09","v":0,"g":1},{"t":"1798-01","v":-0.3,"g":1},{"t":"1798-03","v":-0.7,"g":1},{"t":"1798-07","v":-0.3,"g":1},{"t":"1798-11","v":0.1,"g":1},{"t":"1799-03","v":0.3,"g":1},{"t":"1799-07","v":0.3,"g":1},{"t":"1799-11","v":0.5,"g":1},{"t":"1800-03","v":1.0,"g":1},{"t":"1800-07","v":0.6,"g":1},{"t":"1800-11","v":0.5,"g":1},{"t":"1801-03","v":0.8,"g":1},{"t":"1801-07","v":1.1,"g":1},{"t":"1801-11","v":1.0,"g":1},{"t":"1802-03","v":1.0,"g":1},{"t":"1802-07","v":0.6,"g":1},{"t":"1802-11","v":0.3,"g":1},{"t":"1803-03","v":0.7,"g":1},{"t":"1803-07","v":0.5,"g":1},{"t":"1803-11","v":0.6,"g":1},{"t":"1804-01","v":0,"g":1},
{"t":"1806-11","v":0,"g":2},{"t":"1807-03","v":-0.1,"g":2},{"t":"1807-07","v":-0.2,"g":2},{"t":"1807-11","v":-0.1,"g":2}
],
"murcia_ir":[
{"t":"1792-09","v":0.7,"g":1},{"t":"1792-11","v":0.5,"g":1},{"t":"1793-01","v":1.5,"g":1},{"t":"1793-03","v":1,"g":1},{"t":"1793-05","v":2,"g":1},{"t":"1793-07","v":2.3,"g":1},
{"t":"1793-09","v":1,"g":1},{"t":"1793-11","v":2.5,"g":1},{"t":"1794-01","v":0,"g":1},{"t":"1794-03","v":1.5,"g":1},{"t":"1794-05","v":0,"g":1},{"t":"1794-07","v":2,"g":1},
{"t":"1794-09","v":0,"g":1},{"t":"1794-11","v":1,"g":1},{"t":"1795-01","v":2,"g":1},{"t":"1795-03","v":0,"g":1},{"t":"1795-05","v":1.5,"g":1},{"t":"1795-07","v":0.5,"g":1},
{"t":"1795-09","v":1.5,"g":1},{"t":"1795-11","v":0,"g":1},{"t":"1796-01","v":1,"g":1},{"t":"1796-03","v":0,"g":1},{"t":"1796-05","v":1.3,"g":1},{"t":"1796-07","v":0,"g":1},
{"t":"1796-09","v":1,"g":1},{"t":"1796-11","v":0,"g":1},{"t":"1797-01","v":1,"g":1},{"t":"1797-03","v":0.5,"g":1},{"t":"1797-05","v":0,"g":1},{"t":"1797-07","v":0.5,"g":1},
{"t":"1797-09","v":0,"g":1},{"t":"1797-11","v":0.5,"g":1},{"t":"1798-01","v":0,"g":1},{"t":"1798-03","v":0.5,"g":1},{"t":"1798-05","v":0,"g":1},{"t":"1798-07","v":0.5,"g":1},
{"t":"1798-09","v":0,"g":1},{"t":"1798-11","v":1,"g":1},{"t":"1799-01","v":0,"g":1},{"t":"1799-03","v":0.5,"g":1},{"t":"1799-05","v":0.5,"g":1},{"t":"1799-07","v":0,"g":1},
{"t":"1799-09","v":1,"g":1},{"t":"1799-11","v":0,"g":1},{"t":"1800-01","v":0.5,"g":1},{"t":"1800-03","v":0,"g":1},{"t":"1800-05","v":1,"g":1},{"t":"1800-07","v":0,"g":1},
{"t":"1800-09","v":0.5,"g":1},{"t":"1800-11","v":0,"g":1},{"t":"1801-01","v":2,"g":1},{"t":"1801-03","v":0,"g":1},{"t":"1801-05","v":0.5,"g":1},{"t":"1801-07","v":0,"g":1},
{"t":"1801-09","v":0.5,"g":1},{"t":"1801-11","v":0,"g":1},{"t":"1802-01","v":1,"g":1},{"t":"1802-03","v":0,"g":1},{"t":"1802-05","v":0.5,"g":1},{"t":"1802-07","v":0,"g":1},
{"t":"1802-09","v":0,"g":1},{"t":"1802-11","v":0.5,"g":1},{"t":"1803-01","v":1,"g":1},{"t":"1803-03","v":0,"g":1},{"t":"1803-05","v":2,"g":1},{"t":"1803-07","v":0,"g":1},
{"t":"1803-09","v":0.5,"g":1},{"t":"1803-11","v":0,"g":1},{"t":"1804-01","v":0.5,"g":1},{"t":"1804-03","v":0.3,"g":1},
{"t":"1806-05","v":2,"g":2},{"t":"1806-07","v":0,"g":2},{"t":"1806-09","v":1,"g":2},{"t":"1806-11","v":2,"g":2},{"t":"1807-01","v":0,"g":2},{"t":"1807-03","v":0.5,"g":2},{"t":"1807-05","v":2,"g":2},{"t":"1807-07","v":1,"g":2},{"t":"1807-09","v":0,"g":2},{"t":"1807-11","v":2,"g":2},{"t":"1808-01","v":1,"g":2},{"t":"1808-03","v":2,"g":2}
],
"murcia_ir_ma":[
{"t":"1793-01","v":1.0,"g":1},{"t":"1793-07","v":1.5,"g":1},{"t":"1794-01","v":1.7,"g":1},{"t":"1794-05","v":1.3,"g":1},{"t":"1794-09","v":1.1,"g":1},{"t":"1795-03","v":1.0,"g":1},{"t":"1795-09","v":1.0,"g":1},{"t":"1796-03","v":0.9,"g":1},{"t":"1796-09","v":0.8,"g":1},{"t":"1797-03","v":0.8,"g":1},{"t":"1797-09","v":0.8,"g":1},{"t":"1798-03","v":0.9,"g":1},{"t":"1798-07","v":0.7,"g":1},{"t":"1799-01","v":0.3,"g":1},{"t":"1799-07","v":0.5,"g":1},{"t":"1800-01","v":0.6,"g":1},{"t":"1800-07","v":0.4,"g":1},{"t":"1800-11","v":0.3,"g":1},{"t":"1801-05","v":0.5,"g":1},{"t":"1801-11","v":0.5,"g":1},{"t":"1802-05","v":0.3,"g":1},{"t":"1802-11","v":0.3,"g":1},{"t":"1803-05","v":0.2,"g":1},{"t":"1803-11","v":0.5,"g":1},{"t":"1804-03","v":0.6,"g":1},{"t":"1804-07","v":0.2,"g":1},
{"t":"1806-11","v":0.5,"g":2},{"t":"1807-03","v":0.6,"g":2},{"t":"1807-07","v":0.8,"g":2},{"t":"1808-01","v":0.9,"g":2}
]
},
"concat":[
{"title":"Seville","width":116,"height":45,
 "encoding":{"x":{"field":"t","type":"temporal","scale":{"type":"utc","domain":[{"year":1792,"month":8,"date":20,"utc":true},{"year":1808,"month":4,"date":20,"utc":true}]},"axis":{"title":null,"values":[{"year":1792,"month":9,"date":1,"utc":true},{"year":1794,"month":3,"date":1,"utc":true},{"year":1795,"month":9,"date":1,"utc":true},{"year":1797,"month":3,"date":1,"utc":true},{"year":1798,"month":9,"date":1,"utc":true},{"year":1800,"month":3,"date":1,"utc":true},{"year":1801,"month":9,"date":1,"utc":true},{"year":1803,"month":3,"date":1,"utc":true},{"year":1804,"month":9,"date":1,"utc":true},{"year":1806,"month":3,"date":1,"utc":true},{"year":1807,"month":9,"date":1,"utc":true}],"labelExpr":"utcFormat(datum.value,'%m')=='09'?'sep-':'mar-'"}},
  "y":{"field":"v","type":"quantitative","scale":{"domain":[-2,2]},"axis":{"title":"It","values":[-2,0,2]}}},
 "layer":[
  {"data":{"name":"bands"},"transform":[{"filter":"datum.c=='Seville'&&datum.i=='It'"}],"mark":{"type":"rect","color":"#edfafd"},"encoding":{"x2":{"field":"t2"},"y2":{"field":"v2"}}},
  {"data":{"name":"seville_it"},"mark":{"type":"line","color":"#4472c4","strokeWidth":0.9,"strokeJoin":"round"},"encoding":{"detail":{"field":"g"}}},
  {"data":{"name":"seville_it_ma"},"mark":{"type":"line","color":"#b9a028","strokeWidth":2,"strokeJoin":"round"},"encoding":{"detail":{"field":"g"}}}
 ]},
{"title":"Seville","width":122,"height":45,
 "encoding":{"x":{"field":"t","type":"temporal","scale":{"type":"utc","domain":[{"year":1792,"month":8,"date":20,"utc":true},{"year":1808,"month":4,"date":20,"utc":true}]},"axis":{"title":null,"values":[{"year":1792,"month":9,"date":1,"utc":true},{"year":1794,"month":3,"date":1,"utc":true},{"year":1795,"month":9,"date":1,"utc":true},{"year":1797,"month":3,"date":1,"utc":true},{"year":1798,"month":9,"date":1,"utc":true},{"year":1800,"month":3,"date":1,"utc":true},{"year":1801,"month":9,"date":1,"utc":true},{"year":1803,"month":3,"date":1,"utc":true},{"year":1804,"month":9,"date":1,"utc":true},{"year":1806,"month":3,"date":1,"utc":true},{"year":1807,"month":9,"date":1,"utc":true}],"labelExpr":"utcFormat(datum.value,'%m')=='09'?'sep-':'mar-'"}},
  "y":{"field":"v","type":"quantitative","scale":{"domain":[0,3]},"axis":{"title":"Ir","values":[0,1,2,3]}}},
 "layer":[
  {"data":{"name":"bands"},"transform":[{"filter":"datum.c=='Seville'&&datum.i=='Ir'"}],"mark":{"type":"rect","color":"#edfafd"},"encoding":{"x2":{"field":"t2"},"y2":{"field":"v2"}}},
  {"data":{"name":"seville_ir"},"mark":{"type":"line","color":"#4472c4","strokeWidth":0.9,"strokeJoin":"round"},"encoding":{"detail":{"field":"g"}}},
  {"data":{"name":"seville_ir_ma"},"mark":{"type":"line","color":"#b9a028","strokeWidth":2,"strokeJoin":"round"},"encoding":{"detail":{"field":"g"}}}
 ]},
{"title":"Córdoba","width":116,"height":45,
 "encoding":{"x":{"field":"t","type":"temporal","scale":{"type":"utc","domain":[{"year":1792,"month":8,"date":20,"utc":true},{"year":1808,"month":4,"date":20,"utc":true}]},"axis":{"title":null,"values":[{"year":1792,"month":9,"date":1,"utc":true},{"year":1794,"month":3,"date":1,"utc":true},{"year":1795,"month":9,"date":1,"utc":true},{"year":1797,"month":3,"date":1,"utc":true},{"year":1798,"month":9,"date":1,"utc":true},{"year":1800,"month":3,"date":1,"utc":true},{"year":1801,"month":9,"date":1,"utc":true},{"year":1803,"month":3,"date":1,"utc":true},{"year":1804,"month":9,"date":1,"utc":true},{"year":1806,"month":3,"date":1,"utc":true},{"year":1807,"month":9,"date":1,"utc":true}],"labelExpr":"utcFormat(datum.value,'%m')=='09'?'sep-':'mar-'"}},
  "y":{"field":"v","type":"quantitative","scale":{"domain":[-2,2]},"axis":{"title":"It","values":[-2,0,2]}}},
 "layer":[
  {"data":{"name":"bands"},"transform":[{"filter":"datum.c=='Cordoba'&&datum.i=='It'"}],"mark":{"type":"rect","color":"#edfafd"},"encoding":{"x2":{"field":"t2"},"y2":{"field":"v2"}}},
  {"data":{"name":"cordoba_it"},"mark":{"type":"line","color":"#4472c4","strokeWidth":0.9,"strokeJoin":"round"},"encoding":{"detail":{"field":"g"}}},
  {"data":{"name":"cordoba_it_ma"},"mark":{"type":"line","color":"#b9a028","strokeWidth":2,"strokeJoin":"round"},"encoding":{"detail":{"field":"g"}}}
 ]},
{"title":"Córdoba","width":122,"height":45,
 "encoding":{"x":{"field":"t","type":"temporal","scale":{"type":"utc","domain":[{"year":1792,"month":8,"date":20,"utc":true},{"year":1808,"month":4,"date":20,"utc":true}]},"axis":{"title":null,"values":[{"year":1792,"month":9,"date":1,"utc":true},{"year":1794,"month":3,"date":1,"utc":true},{"year":1795,"month":9,"date":1,"utc":true},{"year":1797,"month":3,"date":1,"utc":true},{"year":1798,"month":9,"date":1,"utc":true},{"year":1800,"month":3,"date":1,"utc":true},{"year":1801,"month":9,"date":1,"utc":true},{"year":1803,"month":3,"date":1,"utc":true},{"year":1804,"month":9,"date":1,"utc":true},{"year":1806,"month":3,"date":1,"utc":true},{"year":1807,"month":9,"date":1,"utc":true}],"labelExpr":"utcFormat(datum.value,'%m')=='09'?'sep-':'mar-'"}},
  "y":{"field":"v","type":"quantitative","scale":{"domain":[0,3]},"axis":{"title":"Ir","values":[0,1,2,3]}}},
 "layer":[
  {"data":{"name":"bands"},"transform":[{"filter":"datum.c=='Cordoba'&&datum.i=='Ir'"}],"mark":{"type":"rect","color":"#edfafd"},"encoding":{"x2":{"field":"t2"},"y2":{"field":"v2"}}},
  {"data":{"name":"cordoba_ir"},"mark":{"type":"line","color":"#4472c4","strokeWidth":0.9,"strokeJoin":"round"},"encoding":{"detail":{"field":"g"}}},
  {"data":{"name":"cordoba_ir_ma"},"mark":{"type":"line","color":"#b9a028","strokeWidth":2,"strokeJoin":"round"},"encoding":{"detail":{"field":"g"}}}
 ]},
{"title":"Jaén","width":116,"height":45,
 "encoding":{"x":{"field":"t","type":"temporal","scale":{"type":"utc","domain":[{"year":1792,"month":8,"date":20,"utc":true},{"year":1808,"month":4,"date":20,"utc":true}]},"axis":{"title":null,"values":[{"year":1792,"month":9,"date":1,"utc":true},{"year":1794,"month":3,"date":1,"utc":true},{"year":1795,"month":9,"date":1,"utc":true},{"year":1797,"month":3,"date":1,"utc":true},{"year":1798,"month":9,"date":1,"utc":true},{"year":1800,"month":3,"date":1,"utc":true},{"year":1801,"month":9,"date":1,"utc":true},{"year":1803,"month":3,"date":1,"utc":true},{"year":1804,"month":9,"date":1,"utc":true},{"year":1806,"month":3,"date":1,"utc":true},{"year":1807,"month":9,"date":1,"utc":true}],"labelExpr":"utcFormat(datum.value,'%m')=='09'?'sep-':'mar-'"}},
  "y":{"field":"v","type":"quantitative","scale":{"domain":[-2,2]},"axis":{"title":"It","values":[-2,0,2]}}},
 "layer":[
  {"data":{"name":"bands"},"transform":[{"filter":"datum.c=='Jaen'&&datum.i=='It'"}],"mark":{"type":"rect","color":"#edfafd"},"encoding":{"x2":{"field":"t2"},"y2":{"field":"v2"}}},
  {"data":{"name":"jaen_it"},"mark":{"type":"line","color":"#4472c4","strokeWidth":0.9,"strokeJoin":"round"},"encoding":{"detail":{"field":"g"}}},
  {"data":{"name":"jaen_it_ma"},"mark":{"type":"line","color":"#b9a028","strokeWidth":2,"strokeJoin":"round"},"encoding":{"detail":{"field":"g"}}}
 ]},
{"title":"Jaén","width":122,"height":31,
 "encoding":{"x":{"field":"t","type":"temporal","scale":{"type":"utc","domain":[{"year":1792,"month":8,"date":20,"utc":true},{"year":1808,"month":4,"date":20,"utc":true}]},"axis":{"title":null,"labelFontSize":8,"values":[{"year":1792,"month":9,"date":1,"utc":true},{"year":1794,"month":3,"date":1,"utc":true},{"year":1795,"month":9,"date":1,"utc":true},{"year":1797,"month":3,"date":1,"utc":true},{"year":1798,"month":9,"date":1,"utc":true},{"year":1800,"month":3,"date":1,"utc":true},{"year":1801,"month":9,"date":1,"utc":true},{"year":1803,"month":3,"date":1,"utc":true},{"year":1804,"month":9,"date":1,"utc":true},{"year":1806,"month":3,"date":1,"utc":true},{"year":1807,"month":9,"date":1,"utc":true}],"labelExpr":"utcFormat(datum.value,'%m')=='09'?'sep-'+utcFormat(datum.value,'%Y'):'mar-...'"}},
  "y":{"field":"v","type":"quantitative","scale":{"domain":[0,3]},"axis":{"title":"Ir","values":[0,1,2,3]}}},
 "layer":[
  {"data":{"name":"bands"},"transform":[{"filter":"datum.c=='Jaen'&&datum.i=='Ir'"}],"mark":{"type":"rect","color":"#edfafd"},"encoding":{"x2":{"field":"t2"},"y2":{"field":"v2"}}},
  {"data":{"name":"jaen_ir"},"mark":{"type":"line","color":"#4472c4","strokeWidth":0.9,"strokeJoin":"round"},"encoding":{"detail":{"field":"g"}}},
  {"data":{"name":"jaen_ir_ma"},"mark":{"type":"line","color":"#b9a028","strokeWidth":2,"strokeJoin":"round"},"encoding":{"detail":{"field":"g"}}}
 ]},
{"title":"Granada","width":116,"height":45,
 "encoding":{"x":{"field":"t","type":"temporal","scale":{"type":"utc","domain":[{"year":1792,"month":8,"date":20,"utc":true},{"year":1808,"month":4,"date":20,"utc":true}]},"axis":{"title":null,"values":[{"year":1792,"month":9,"date":1,"utc":true},{"year":1794,"month":3,"date":1,"utc":true},{"year":1795,"month":9,"date":1,"utc":true},{"year":1797,"month":3,"date":1,"utc":true},{"year":1798,"month":9,"date":1,"utc":true},{"year":1800,"month":3,"date":1,"utc":true},{"year":1801,"month":9,"date":1,"utc":true},{"year":1803,"month":3,"date":1,"utc":true},{"year":1804,"month":9,"date":1,"utc":true},{"year":1806,"month":3,"date":1,"utc":true},{"year":1807,"month":9,"date":1,"utc":true}],"labelExpr":"utcFormat(datum.value,'%m')=='09'?'sep-':'mar-'"}},
  "y":{"field":"v","type":"quantitative","scale":{"domain":[-2,2]},"axis":{"title":"It","values":[-2,0,2]}}},
 "layer":[
  {"data":{"name":"bands"},"transform":[{"filter":"datum.c=='Granada'&&datum.i=='It'"}],"mark":{"type":"rect","color":"#edfafd"},"encoding":{"x2":{"field":"t2"},"y2":{"field":"v2"}}},
  {"data":{"name":"granada_it"},"mark":{"type":"line","color":"#4472c4","strokeWidth":0.9,"strokeJoin":"round"},"encoding":{"detail":{"field":"g"}}},
  {"data":{"name":"granada_it_ma"},"mark":{"type":"line","color":"#b9a028","strokeWidth":2,"strokeJoin":"round"},"encoding":{"detail":{"field":"g"}}}
 ]},
{"title":"Granada","width":122,"height":45,
 "encoding":{"x":{"field":"t","type":"temporal","scale":{"type":"utc","domain":[{"year":1792,"month":8,"date":20,"utc":true},{"year":1808,"month":4,"date":20,"utc":true}]},"axis":{"title":null,"values":[{"year":1792,"month":9,"date":1,"utc":true},{"year":1794,"month":3,"date":1,"utc":true},{"year":1795,"month":9,"date":1,"utc":true},{"year":1797,"month":3,"date":1,"utc":true},{"year":1798,"month":9,"date":1,"utc":true},{"year":1800,"month":3,"date":1,"utc":true},{"year":1801,"month":9,"date":1,"utc":true},{"year":1803,"month":3,"date":1,"utc":true},{"year":1804,"month":9,"date":1,"utc":true},{"year":1806,"month":3,"date":1,"utc":true},{"year":1807,"month":9,"date":1,"utc":true}],"labelExpr":"utcFormat(datum.value,'%m')=='09'?'sep-':'mar-'"}},
  "y":{"field":"v","type":"quantitative","scale":{"domain":[0,3]},"axis":{"title":"Ir","values":[0,1,2,3]}}},
 "layer":[
  {"data":{"name":"bands"},"transform":[{"filter":"datum.c=='Granada'&&datum.i=='Ir'"}],"mark":{"type":"rect","color":"#edfafd"},"encoding":{"x2":{"field":"t2"},"y2":{"field":"v2"}}},
  {"data":{"name":"granada_ir"},"mark":{"type":"line","color":"#4472c4","strokeWidth":0.9,"strokeJoin":"round"},"encoding":{"detail":{"field":"g"}}},
  {"data":{"name":"granada_ir_ma"},"mark":{"type":"line","color":"#b9a028","strokeWidth":2,"strokeJoin":"round"},"encoding":{"detail":{"field":"g"}}}
 ]},
{"title":"Murcia","width":116,"height":45,
 "encoding":{"x":{"field":"t","type":"temporal","scale":{"type":"utc","domain":[{"year":1792,"month":8,"date":20,"utc":true},{"year":1808,"month":4,"date":20,"utc":true}]},"axis":{"title":null,"values":[{"year":1792,"month":9,"date":1,"utc":true},{"year":1794,"month":3,"date":1,"utc":true},{"year":1795,"month":9,"date":1,"utc":true},{"year":1797,"month":3,"date":1,"utc":true},{"year":1798,"month":9,"date":1,"utc":true},{"year":1800,"month":3,"date":1,"utc":true},{"year":1801,"month":9,"date":1,"utc":true},{"year":1803,"month":3,"date":1,"utc":true},{"year":1804,"month":9,"date":1,"utc":true},{"year":1806,"month":3,"date":1,"utc":true},{"year":1807,"month":9,"date":1,"utc":true}],"labelExpr":"utcFormat(datum.value,'%m')=='09'?'sep-':'mar-'"}},
  "y":{"field":"v","type":"quantitative","scale":{"domain":[-2,2]},"axis":{"title":"It","values":[-2,0,2]}}},
 "layer":[
  {"data":{"name":"bands"},"transform":[{"filter":"datum.c=='Murcia'&&datum.i=='It'"}],"mark":{"type":"rect","color":"#edfafd"},"encoding":{"x2":{"field":"t2"},"y2":{"field":"v2"}}},
  {"data":{"name":"murcia_it"},"mark":{"type":"line","color":"#4472c4","strokeWidth":0.9,"strokeJoin":"round"},"encoding":{"detail":{"field":"g"}}},
  {"data":{"name":"murcia_it_ma"},"mark":{"type":"line","color":"#b9a028","strokeWidth":2,"strokeJoin":"round"},"encoding":{"detail":{"field":"g"}}}
 ]},
{"title":"Murcia","width":122,"height":45,
 "encoding":{"x":{"field":"t","type":"temporal","scale":{"type":"utc","domain":[{"year":1792,"month":8,"date":20,"utc":true},{"year":1808,"month":4,"date":20,"utc":true}]},"axis":{"title":null,"values":[{"year":1792,"month":9,"date":1,"utc":true},{"year":1794,"month":3,"date":1,"utc":true},{"year":1795,"month":9,"date":1,"utc":true},{"year":1797,"month":3,"date":1,"utc":true},{"year":1798,"month":9,"date":1,"utc":true},{"year":1800,"month":3,"date":1,"utc":true},{"year":1801,"month":9,"date":1,"utc":true},{"year":1803,"month":3,"date":1,"utc":true},{"year":1804,"month":9,"date":1,"utc":true},{"year":1806,"month":3,"date":1,"utc":true},{"year":1807,"month":9,"date":1,"utc":true}],"labelExpr":"utcFormat(datum.value,'%m')=='09'?'sep-':'mar-'"}},
  "y":{"field":"v","type":"quantitative","scale":{"domain":[0,3]},"axis":{"title":"Ir","values":[0,1,2,3]}}},
 "layer":[
  {"data":{"name":"bands"},"transform":[{"filter":"datum.c=='Murcia'&&datum.i=='Ir'"}],"mark":{"type":"rect","color":"#edfafd"},"encoding":{"x2":{"field":"t2"},"y2":{"field":"v2"}}},
  {"data":{"name":"murcia_ir"},"mark":{"type":"line","color":"#4472c4","strokeWidth":0.9,"strokeJoin":"round"},"encoding":{"detail":{"field":"g"}}},
  {"data":{"name":"murcia_ir_ma"},"mark":{"type":"line","color":"#b9a028","strokeWidth":2,"strokeJoin":"round"},"encoding":{"detail":{"field":"g"}}}
 ]}
]
}
